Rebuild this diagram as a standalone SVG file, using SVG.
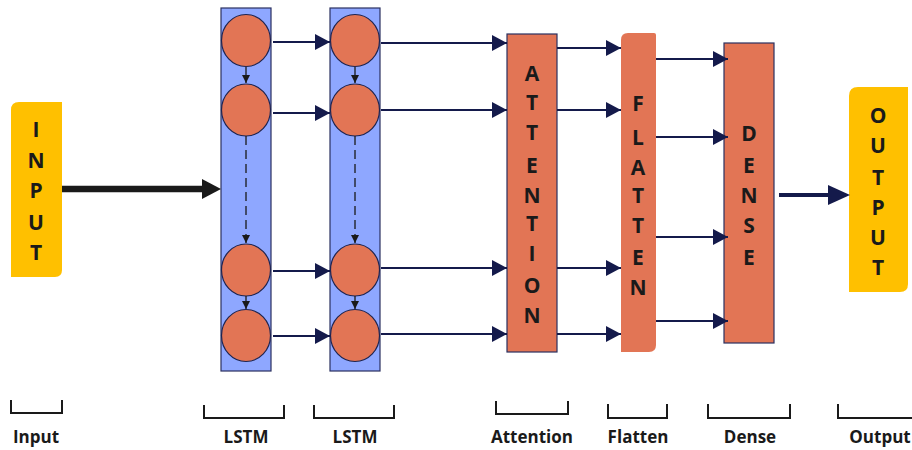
<svg xmlns="http://www.w3.org/2000/svg" width="912" height="450" viewBox="0 0 912 450">
<defs>
<marker id="ah" viewBox="0 0 15 16" refX="15" refY="8" markerWidth="15" markerHeight="16" markerUnits="userSpaceOnUse" orient="auto"><path d="M0,0 L15,8 L0,16 z" fill="#141A4B"/></marker>
<marker id="sh" viewBox="0 0 8 8" refX="8" refY="4" markerWidth="8" markerHeight="8" markerUnits="userSpaceOnUse" orient="auto"><path d="M0,0 L8,4 L0,8 z" fill="#1a1a1a"/></marker>
</defs>
<style>
.lt{font-family:"Open Sans","Liberation Sans",sans-serif;font-weight:700;font-size:21px;fill:#1a1a1a;text-anchor:middle}
.lb{font-family:"Open Sans","Liberation Sans",sans-serif;font-weight:700;font-size:17px;fill:#1a1a1a;text-anchor:middle}
.col{fill:#8EA7FF;stroke:#2A3060;stroke-width:1.2}
.cell{fill:#E27555;stroke:#1E2450;stroke-width:1.2}
.blk{fill:#E27555;stroke:#2A3060;stroke-width:1.2}
.yel{fill:#FFC000}
.c{stroke:#141A4B;stroke-width:2;fill:none;marker-end:url(#ah)}
.v{stroke:#1a1a1a;stroke-width:1.3;fill:none;marker-end:url(#sh)}
.br{stroke:#1a1a1a;stroke-width:2;fill:none}
</style>
<rect width="912" height="450" fill="#fff"/>
<g id="input">
<path d="M19,102 H62 V270 Q62,277 55,277 H11 V110 Q11,102 19,102 Z" class="yel"/>
<text class="lt" x="36" y="137">I</text>
<text class="lt" x="36" y="168">N</text>
<text class="lt" x="36" y="198">P</text>
<text class="lt" x="36" y="230">U</text>
<text class="lt" x="36" y="260">T</text>
</g>
<g id="lstm1">
<rect class="col" x="221" y="8" width="50" height="363"/>
<ellipse class="cell" cx="246" cy="40.5" rx="24.5" ry="26"/>
<ellipse class="cell" cx="246" cy="110" rx="24.5" ry="26"/>
<ellipse class="cell" cx="246" cy="270" rx="24.5" ry="26"/>
<ellipse class="cell" cx="246" cy="335.5" rx="24.5" ry="26"/>
</g>
<g id="lstm2">
<rect class="col" x="330" y="8" width="50" height="363"/>
<ellipse class="cell" cx="355" cy="40.5" rx="24.5" ry="26"/>
<ellipse class="cell" cx="355" cy="110" rx="24.5" ry="26"/>
<ellipse class="cell" cx="355" cy="270" rx="24.5" ry="26"/>
<ellipse class="cell" cx="355" cy="335.5" rx="24.5" ry="26"/>
</g>
<g id="attention">
<rect class="blk" x="507" y="34" width="50" height="318"/>
<text class="lt" x="532" y="81">A</text>
<text class="lt" x="532" y="110">T</text>
<text class="lt" x="532" y="140">T</text>
<text class="lt" x="532" y="173">E</text>
<text class="lt" x="532" y="203">N</text>
<text class="lt" x="532" y="231">T</text>
<text class="lt" x="532" y="261">I</text>
<text class="lt" x="532" y="293">O</text>
<text class="lt" x="532" y="323">N</text>
</g>
<g id="flatten">
<path d="M628,33 H654 Q656,33 656,35 V345 Q656,352 649,352 H621 V40 Q621,33 628,33 Z" fill="#E27555"/>
<text class="lt" x="638" y="111">F</text>
<text class="lt" x="638" y="145">L</text>
<text class="lt" x="638" y="175">A</text>
<text class="lt" x="638" y="203">T</text>
<text class="lt" x="638" y="233">T</text>
<text class="lt" x="638" y="265">E</text>
<text class="lt" x="638" y="295">N</text>
</g>
<g id="dense">
<rect class="blk" x="724" y="43" width="50" height="300"/>
<text class="lt" x="749" y="141">D</text>
<text class="lt" x="749" y="173">E</text>
<text class="lt" x="749" y="203">N</text>
<text class="lt" x="749" y="233">S</text>
<text class="lt" x="749" y="265">E</text>
</g>
<g id="output">
<path d="M858,87 H908 V284 Q908,292 900,292 H849 V96 Q849,87 858,87 Z" class="yel"/>
<text class="lt" x="878" y="123">O</text>
<text class="lt" x="878" y="153">U</text>
<text class="lt" x="878" y="185">T</text>
<text class="lt" x="878" y="215">P</text>
<text class="lt" x="878" y="245">U</text>
<text class="lt" x="878" y="275">T</text>
</g>
<g id="connectors">
<line x1="62" y1="189" x2="203" y2="189" stroke="#1a1a1a" stroke-width="6.5"/>
<path d="M202,179 L221,189 L202,199 Z" fill="#1a1a1a"/>
<line class="v" x1="246" y1="67" x2="246" y2="83"/>
<line class="v" x1="246" y1="136" x2="246" y2="243" stroke-dasharray="9,5"/>
<line class="v" x1="246" y1="296" x2="246" y2="309"/>
<line class="v" x1="355" y1="67" x2="355" y2="83"/>
<line class="v" x1="355" y1="136" x2="355" y2="243" stroke-dasharray="9,5"/>
<line class="v" x1="355" y1="296" x2="355" y2="309"/>
<line class="c" x1="273" y1="42" x2="330" y2="42"/>
<line class="c" x1="273" y1="113" x2="330" y2="113"/>
<line class="c" x1="273" y1="271" x2="330" y2="271"/>
<line class="c" x1="273" y1="336" x2="330" y2="336"/>
<line class="c" x1="381" y1="43" x2="507" y2="43"/>
<line class="c" x1="381" y1="110" x2="507" y2="110"/>
<line class="c" x1="381" y1="268" x2="507" y2="268"/>
<line class="c" x1="381" y1="334" x2="507" y2="334"/>
<line class="c" x1="557" y1="48" x2="621" y2="48"/>
<line class="c" x1="557" y1="110" x2="621" y2="110"/>
<line class="c" x1="557" y1="268" x2="621" y2="268"/>
<line class="c" x1="557" y1="334" x2="621" y2="334"/>
<line class="c" x1="656" y1="59" x2="728" y2="59"/>
<line class="c" x1="656" y1="137" x2="728" y2="137"/>
<line class="c" x1="656" y1="237" x2="728" y2="237"/>
<line class="c" x1="656" y1="321" x2="728" y2="321"/>
<line x1="779" y1="195" x2="830" y2="195" stroke="#141A4B" stroke-width="4"/>
<path d="M828,185 L850,195 L828,205 Z" fill="#141A4B"/>
</g>
<g id="labels">
<path class="br" d="M11,400 V413 H62 V400"/>
<path class="br" d="M204,405 V418 H284 V405"/>
<path class="br" d="M314,405 V418 H394 V405"/>
<path class="br" d="M496,401 V414 H568 V401"/>
<path class="br" d="M608,404 V418 H667 V404"/>
<path class="br" d="M708,404 V418 H790 V404"/>
<path class="br" d="M838,404 V418 H912"/>
<text class="lb" x="36" y="443">Input</text>
<text class="lb" x="246" y="443">LSTM</text>
<text class="lb" x="355" y="443">LSTM</text>
<text class="lb" x="532" y="443">Attention</text>
<text class="lb" x="638" y="443">Flatten</text>
<text class="lb" x="750" y="443">Dense</text>
<text class="lb" x="880" y="443">Output</text>
</g>
</svg>
